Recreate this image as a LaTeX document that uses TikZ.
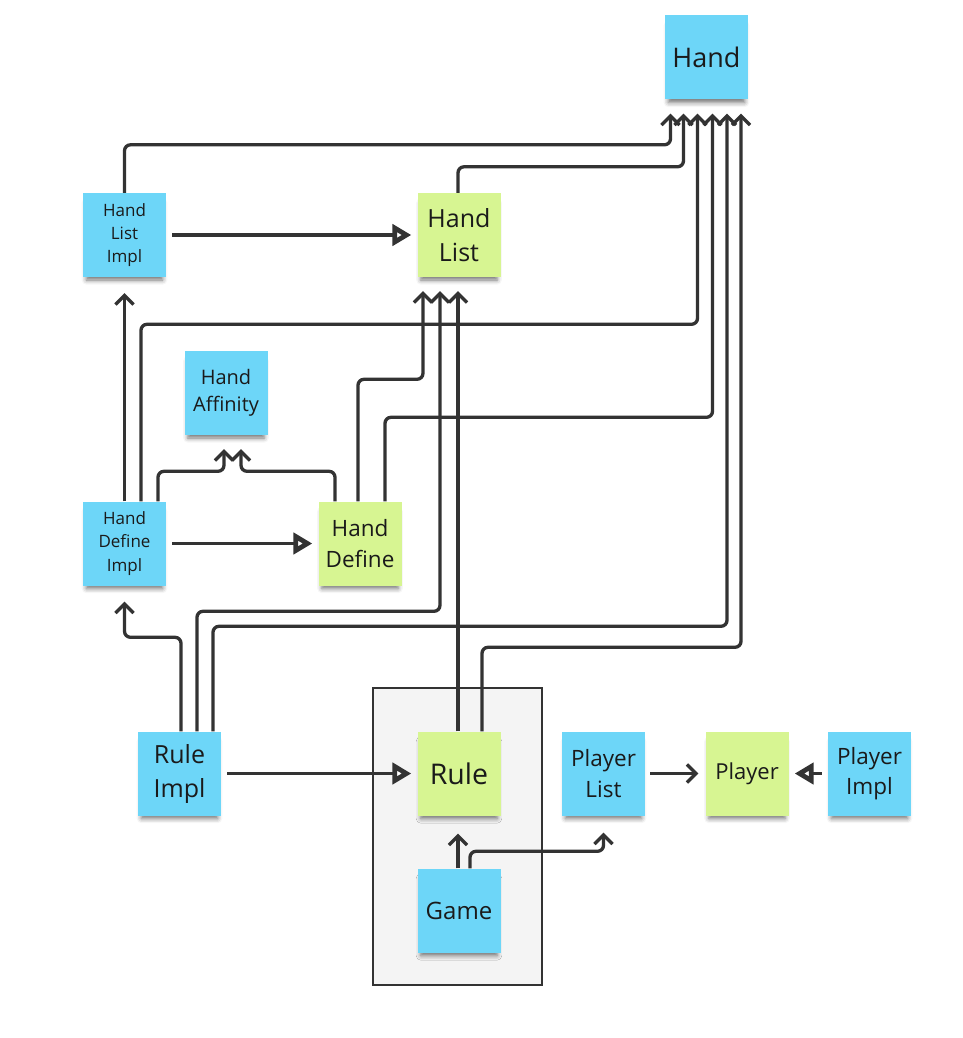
\documentclass[tikz,border=0pt]{standalone}
\usepackage{fontspec}
\setmainfont{Open Sans}
\usetikzlibrary{arrows.meta,shadows.blur}
\definecolor{noteblue}{HTML}{6DD6F8}
\definecolor{notegreen}{HTML}{D7F592}
\definecolor{ink}{HTML}{333333}
\definecolor{boxgray}{HTML}{F4F4F4}
\definecolor{textink}{HTML}{1A1A1A}

\begin{document}
\begin{tikzpicture}[x=1pt,y=-1pt,
  note/.style={rectangle, minimum width=83pt, minimum height=84pt, inner sep=0pt,
    align=center, text=textink,
    blur shadow={shadow xshift=0pt, shadow yshift=-7pt, shadow scale=0.92,
      shadow blur radius=5pt, shadow opacity=55}},
  iface/.style={note, fill=notegreen},
  impl/.style={note, fill=noteblue},
  fs/.style={font=\fontsize{#1pt}{1.36\dimexpr#1pt\relax}\selectfont},
  dep/.style={draw=ink, line width=3.3pt, rounded corners=6pt,
    -{Straight Barb[length=9pt,width=18pt,line width=3.3pt]}, shorten >=14pt},
  real/.style={draw=ink, line width=3.3pt,
    -{Triangle[open,length=19pt,width=21pt,line width=5pt,fill=white]},
    shorten >=6pt, shorten <=6pt},
]
\useasboundingbox (0,0) rectangle (962,1038);

% package boundary around Rule and Game
\draw[draw=ink, line width=1.4pt, fill=boxgray] (373,688) rectangle (542,985);

% sticky notes
\node[impl, fs=27] (Hand) at (706.5,57.5) {Hand};
\node[impl, fs=17] (HLI) at (124.5,235) {Hand\\List\\Impl};
\node[iface, fs=25] (HL) at (459,235) {Hand\\List};
\node[impl, fs=20] (HA) at (226,393) {Hand\\Affinity};
\node[impl, fs=17] (HDI) at (124.5,543.5) {Hand\\Define\\Impl};
\node[iface, fs=22.5] (HD) at (360,543.5) {Hand\\Define};
\node[impl, fs=25] (RI) at (179.5,773.5) {Rule\\Impl};
\node[iface, fs=28.5] (R) at (459,773.5) {Rule};
\node[impl, fs=24] (G) at (459,910.5) {Game};
\node[impl, fs=22.5] (PL) at (603.5,773.5) {Player\\List};
\node[iface, fs=22] (P) at (747,773.5) {Player};
\node[impl, fs=22.5] (PI) at (869.5,773.5) {Player\\Impl};

% dependencies on Hand
\draw[dep] (HLI.north) -- ++(0,-48) -| ([xshift=-36pt]Hand.south);
\draw[dep] ([xshift=-1pt]HL.north) -- ++(0,-26) -| ([xshift=-23pt]Hand.south);
\draw[dep] ([xshift=16.5pt]HDI.north) -- ++(0,-177) -| ([xshift=-9pt]Hand.south);
\draw[dep] ([xshift=25pt]HD.north) -- ++(0,-84) -| ([xshift=6pt]Hand.south);
\draw[dep] ([xshift=33.5pt]RI.north) -- ++(0,-105) -| ([xshift=20.5pt]Hand.south);
\draw[dep] ([xshift=23pt]R.north) -- ++(0,-84) -| ([xshift=34.5pt]Hand.south);

% dependencies on Hand Affinity
\draw[dep] ([xshift=33.5pt]HDI.north) -- ++(0,-30) -| ([xshift=-2pt]HA.south);
\draw[dep] ([xshift=-25pt]HD.north) -- ++(0,-30) -| ([xshift=15pt]HA.south);

% dependencies on Hand List
\draw[dep] ([xshift=-2pt]HD.north) -- ++(0,-122) -| ([xshift=-36pt]HL.south);
\draw[dep] ([xshift=17.5pt]RI.north) -- ++(0,-120) -| ([xshift=-19pt]HL.south);
\draw[dep] ([xshift=-1pt]R.north) -- ([xshift=-1pt]HL.south);

% other dependencies
\draw[dep, shorten >=16pt] (HDI.north) -- (HLI.south);
\draw[dep, shorten >=16pt] ([xshift=1.5pt]RI.north) -- ++(0,-94) -| (HDI.south);
\draw[dep, shorten >=18pt] ([xshift=-1pt]G.north) -- ([xshift=-1pt]R.south);
\draw[dep, shorten >=17pt] ([xshift=11pt]G.north) -- ++(0,-17) -| (PL.south);
\draw[dep, shorten >=7pt, shorten <=5pt] (PL.east) -- (P.west);

% realizations
\draw[real] (HLI.east) -- (HL.west);
\draw[real] (HDI.east) -- (HD.west);
\draw[real] (RI.east) -- (R.west);
\draw[real] (PI.west) -- (P.east);
\end{tikzpicture}
\end{document}
